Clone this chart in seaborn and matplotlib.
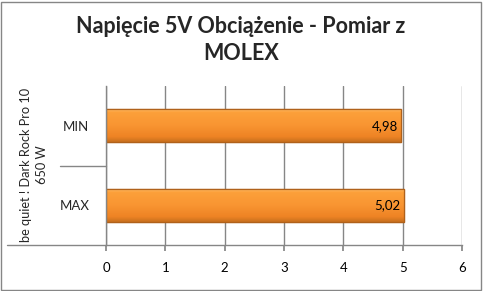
import matplotlib
matplotlib.use("Agg")
import matplotlib.pyplot as plt
import seaborn as sns
import pandas as pd
import numpy as np
from matplotlib.lines import Line2D
from matplotlib.patches import Rectangle
from matplotlib.colors import LinearSegmentedColormap

categories = ["MIN", "MAX"]
values = [4.98, 5.02]
value_labels = ["4,98", "5,02"]
x_ticks = [0, 1, 2, 3, 4, 5, 6]
group_label = "be quiet ! Dark Rock Pro 10\n650 W"
title = "Napięcie 5V Obciążenie - Pomiar z\nMOLEX"

sns.set_theme(style="white")
plt.rcParams['font.family'] = ['Lato', 'DejaVu Sans']

df = pd.DataFrame({"cat": categories, "val": values})

fig = plt.figure(figsize=(4.83, 2.91), dpi=100)
ax = fig.add_axes([106/483, 46/291, 356/483, 159/291])

sns.barplot(data=df, y="cat", x="val", order=categories, orient="h",
            color="#F7941F", edgecolor="#B0611A", linewidth=0.9,
            width=0.42, saturation=1, ax=ax)

ax.set_xlim(0, 6)
ax.set_ylim(1.5, -0.5)
ax.set_xticks(x_ticks)
ax.set_xticklabels([str(t) for t in x_ticks], fontsize=9.5, color="black")
ax.grid(axis="x", color="#868686", linewidth=1)
ax.set_axisbelow(True)
ax.set_xlabel("")
ax.set_ylabel("")
for s in ["top", "right"]:
    ax.spines[s].set_visible(False)
for s in ["left", "bottom"]:
    ax.spines[s].set_color("#868686")
    ax.spines[s].set_linewidth(1)
ax.tick_params(axis="x", length=4, color="#868686", direction="out", pad=8, bottom=True)
ax.tick_params(axis="y", length=0, pad=12, labelsize=9.5)

# gradient shading on bars
cmap = LinearSegmentedColormap.from_list(
    "bar", [(0.0, "#FFC070"), (0.12, "#FCA03A"), (0.5, "#F99532"),
            (0.85, "#EE8324"), (1.0, "#C8701E")])
grad = np.linspace(0, 1, 64).reshape(-1, 1)
for p in ax.patches:
    x0, y0, w, h = p.get_x(), p.get_y(), p.get_width(), p.get_height()
    im = ax.imshow(grad, cmap=cmap, aspect="auto", extent=(x0, x0 + w, y0 + h, y0),
                   origin="upper", zorder=p.get_zorder() + 0.1, interpolation="bilinear")
    im.set_clip_path(p)
    ax.add_patch(Rectangle((x0, y0), w, h, fill=False, edgecolor="#B0611A",
                           linewidth=0.9, zorder=p.get_zorder() + 0.2))
ax.set_xlim(0, 6)
ax.set_ylim(1.5, -0.5)

for p, lab in zip(ax.patches, value_labels):
    w = p.get_width()
    yc = p.get_y() + p.get_height() / 2
    ax.text(w - 0.06, yc, lab, ha="right", va="center", fontsize=9.5, color="black", zorder=10)

# group axis lines
ax.add_line(Line2D([-99/356, 0], [0, 0], transform=ax.transAxes,
                   color="#868686", linewidth=1, clip_on=False))
ax.add_line(Line2D([-46/356, 0], [0.5, 0.5], transform=ax.transAxes,
                   color="#868686", linewidth=1, clip_on=False))

fig.text(34/483, 1 - 165/291, group_label, rotation=90, ha="center", va="center",
         fontsize=9.2, multialignment="center", linespacing=1.3)

fig.text(241/483, 1 - 40/291, title, ha="center", va="center", fontsize=15.5,
         fontweight="bold", linespacing=1.4)

fig.patches.append(Rectangle((1/483, 1/291), 480/483, 288/291, transform=fig.transFigure,
                             fill=False, edgecolor="#868686", linewidth=1))

fig.savefig("out.png", dpi=100)
